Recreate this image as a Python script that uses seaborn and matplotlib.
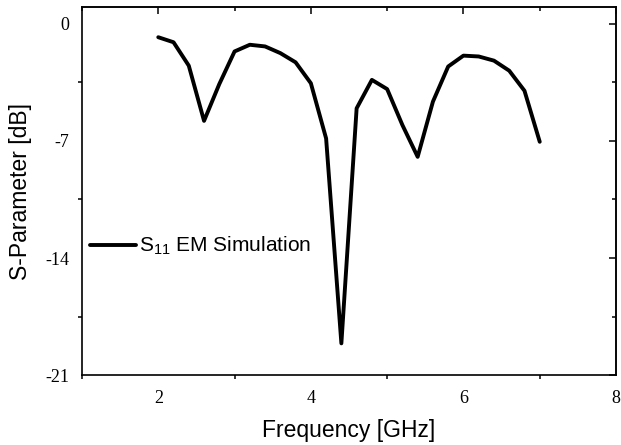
import numpy as np
import pandas as pd
import matplotlib
matplotlib.use("Agg")
import matplotlib.pyplot as plt
import seaborn as sns
from matplotlib.ticker import MultipleLocator

freq = [2.0, 2.2, 2.4, 2.6, 2.8, 3.0, 3.2, 3.4, 3.6, 3.8, 4.0, 4.2, 4.4,
        4.6, 4.8, 5.0, 5.2, 5.4, 5.6, 5.8, 6.0, 6.2, 6.4, 6.6, 6.8, 7.0]
s11 = [-0.8, -1.1, -2.5, -5.8, -3.6, -1.65, -1.25, -1.35, -1.75, -2.3, -3.55,
       -6.85, -19.1, -5.05, -3.35, -3.9, -6.05, -7.95, -4.65, -2.55, -1.9,
       -1.95, -2.2, -2.8, -4.0, -7.05]
xticks = [2, 4, 6, 8]
yticks = [0, -7, -14, -21]
series_label = "S$_{11}$ EM Simulation"

sns.set_style("white")
plt.rcParams['mathtext.default'] = 'regular'
plt.rcParams['text.color'] = 'black'
plt.rcParams['axes.labelcolor'] = 'black'
plt.rcParams['xtick.color'] = 'black'
plt.rcParams['ytick.color'] = 'black'

df = pd.DataFrame({"Frequency": freq, "S11": s11, "series": series_label})

fig = plt.figure(figsize=(6.21, 4.45), dpi=100)
ax = fig.add_axes([0.132, 0.157, 0.86, 0.827])
sns.lineplot(data=df, x="Frequency", y="S11", hue="series", palette=["black"],
             linewidth=2.8, ax=ax)

ax.set_xlim(1, 8)
ax.set_ylim(-21, 1)
ax.set_xticks(xticks)
ax.set_yticks(yticks)
ax.xaxis.set_minor_locator(MultipleLocator(1))
ax.yaxis.set_minor_locator(MultipleLocator(3.5))
ax.set_xticklabels([str(t) for t in xticks], family="Liberation Serif", fontsize=13)
ax.set_yticklabels([str(t) for t in yticks], family="Liberation Serif", fontsize=13)
ax.tick_params(axis='both', which='major', direction='out', length=5, width=1.1,
               color='black', labelcolor='black', pad=4)
ax.tick_params(axis='x', which='major', pad=6)
ax.tick_params(axis='both', which='minor', direction='out', length=3, width=1.1,
               color='black', left=True, bottom=True)
for sp in ax.spines.values():
    sp.set_color('black')
    sp.set_linewidth(1.2)

top = ax.secondary_xaxis('top')
top.set_xticks(xticks)
top.xaxis.set_minor_locator(MultipleLocator(1))
top.tick_params(which='major', direction='in', length=5, width=1.1, labeltop=False)
top.tick_params(which='minor', direction='in', length=3, width=1.1)
top.spines['top'].set_linewidth(1.2)
right = ax.secondary_yaxis('right')
right.set_yticks(yticks)
right.yaxis.set_minor_locator(MultipleLocator(3.5))
right.tick_params(which='major', direction='in', length=5, width=1.1, labelright=False)
right.tick_params(which='minor', direction='in', length=3, width=1.1)
right.spines['right'].set_linewidth(1.2)

ax.set_xlabel("Frequency [GHz]", family="Liberation Sans", fontsize=16.5,
              labelpad=8, color='black')
ax.set_ylabel("S-Parameter [dB]", family="Liberation Sans", fontsize=16.5,
              labelpad=10, color='black')

leg = ax.legend(loc="center left", bbox_to_anchor=(-0.02, 0.35), frameon=False,
                prop={"family": "Liberation Sans", "size": 15},
                handlelength=2.2, handletextpad=0.15, labelcolor='black')

fig.savefig("out.png", dpi=100)
